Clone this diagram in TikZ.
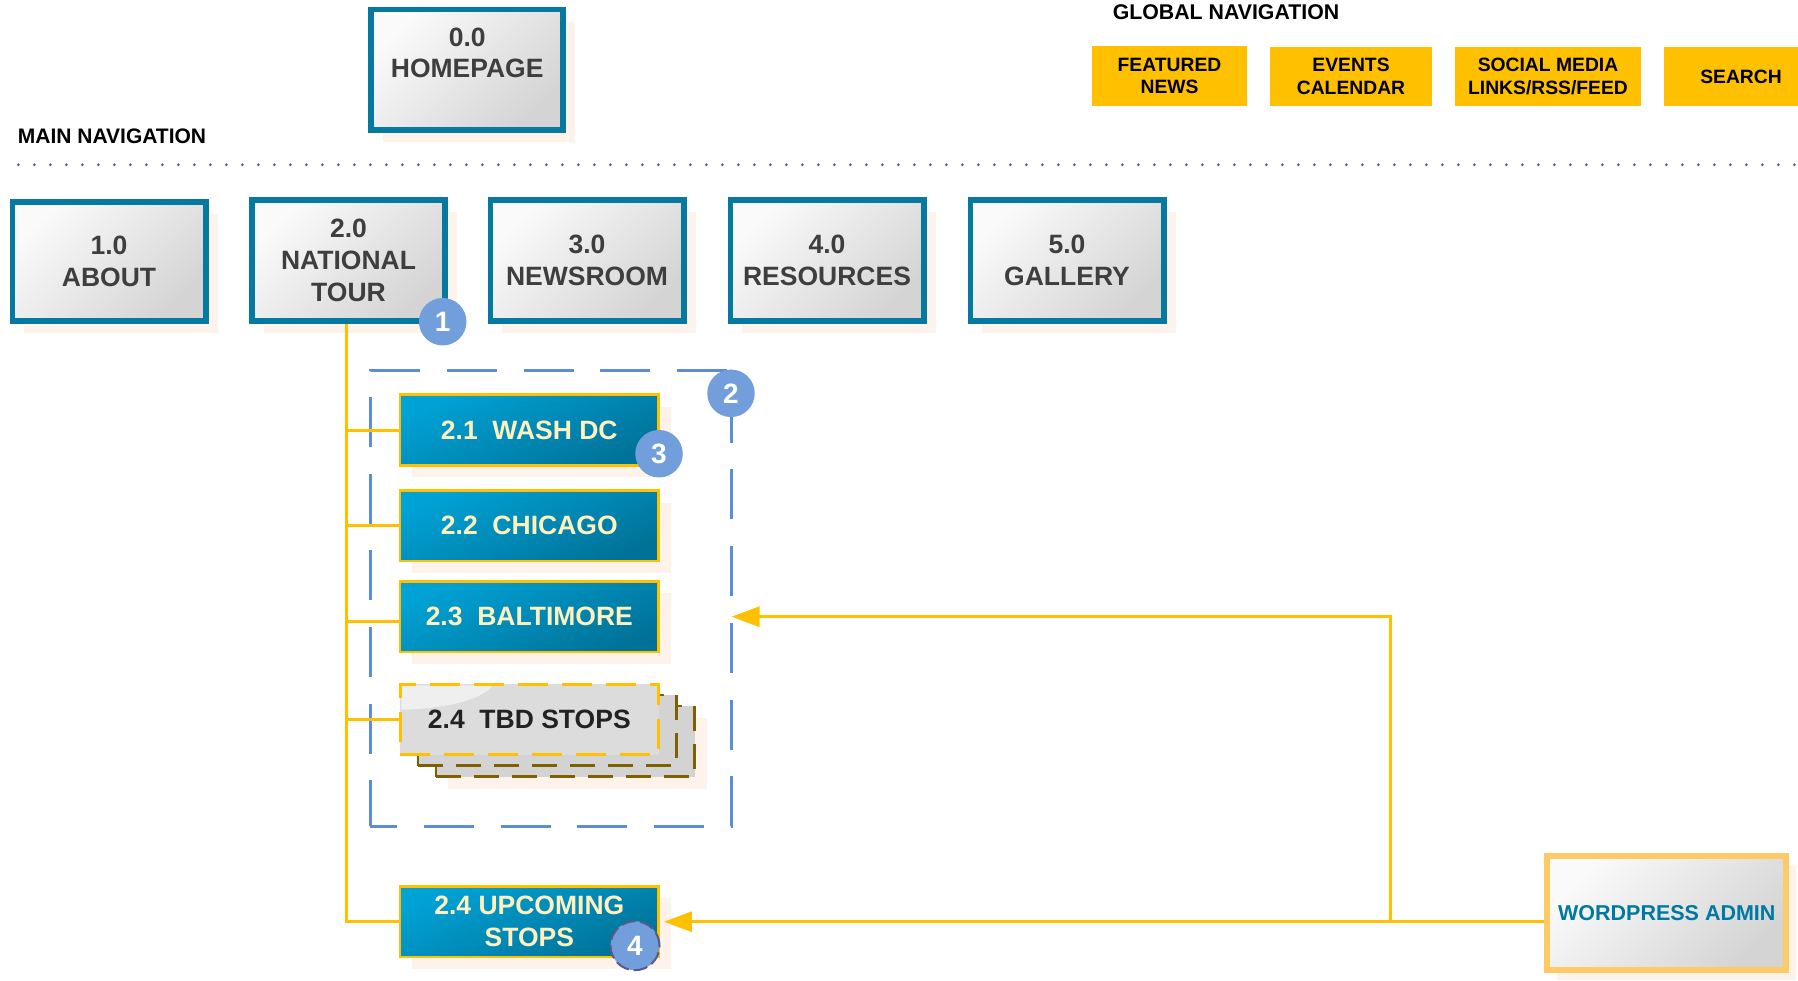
\documentclass[tikz,border=0pt]{standalone}
\usepackage{fontspec}
\setmainfont{Liberation Sans}
\usetikzlibrary{shadows,arrows.meta,calc}
\definecolor{gnav}{RGB}{255,192,0}
\definecolor{tealb}{RGB}{6,121,160}
\definecolor{gtext}{RGB}{62,62,62}
\definecolor{gtop}{RGB}{250,250,250}
\definecolor{gbot}{RGB}{212,212,212}
\definecolor{peach}{RGB}{254,243,234}
\definecolor{badgec}{RGB}{114,158,219}
\definecolor{bluedash}{RGB}{91,141,218}
\definecolor{subtop}{RGB}{0,162,213}
\definecolor{subbot}{RGB}{0,114,152}
\definecolor{cream}{RGB}{255,241,189}
\definecolor{tbdgray}{RGB}{220,220,220}
\definecolor{tbdtext}{RGB}{34,34,34}
\definecolor{golddk}{RGB}{127,96,0}
\definecolor{wpb}{RGB}{255,202,102}
\definecolor{wptext}{RGB}{0,121,160}
\definecolor{dotc}{RGB}{92,92,148}
\definecolor{slate}{RGB}{88,88,138}
\begin{document}
\begin{tikzpicture}[x=1pt,y=-1pt,
  peachshadow/.style={drop shadow={shadow xshift=12pt, shadow yshift=-12pt, fill=peach, opacity=1}},
  navbox/.style={draw=tealb, line width=5.7pt, top color=gtop, bottom color=gbot, shading angle=45,
    minimum width=193.3pt, minimum height=121.3pt, inner sep=0pt, align=center, text=gtext,
    font=\fontsize{26.5pt}{32pt}\selectfont\bfseries, peachshadow},
  gnavbox/.style={fill=gnav, text=black, inner sep=0pt, align=center, minimum height=59pt,
    font=\fontsize{19.3pt}{22.7pt}\selectfont\bfseries},
  heading/.style={text=black, inner sep=0pt, font=\fontsize{21pt}{24pt}\selectfont\bfseries},
  subbox/.style={draw=gnav, line width=2.7pt, top color=subtop, bottom color=subbot, shading angle=25,
    minimum width=258.6pt, minimum height=70.6pt, inner sep=0pt, align=center, text=cream,
    font=\fontsize{26.5pt}{31.7pt}\selectfont\bfseries, peachshadow},
  tbdback/.style={draw=golddk, line width=2.6pt, dash pattern=on 25pt off 13pt, fill=tbdgray!96!black,
    minimum width=258.6pt, minimum height=70.6pt, inner sep=0pt},
  badge/.style={circle, fill=badgec, text=white, minimum size=47.5pt, inner sep=0pt,
    font=\fontsize{28pt}{28pt}\selectfont\bfseries},
  conn/.style={draw=gnav, line width=3pt},
  arr/.style={conn, -{Triangle[length=28pt, width=20pt]}},
]
\useasboundingbox (0,0) rectangle (1798,980);
\clip (0,0) rectangle (1798,980);
\fill[white] (0,0) rectangle (1798,980);

% global navigation
\node[heading, font=\fontsize{21.3pt}{24pt}\selectfont\bfseries] (gtitle) at (1226,12.5) {GLOBAL NAVIGATION};
\node[gnavbox, minimum width=155pt, minimum height=60pt] (feat) at (1169.5,76) {FEATURED\\NEWS};
\node[gnavbox, minimum width=162pt] (events) at (1351,76.5) {EVENTS\\CALENDAR};
\node[gnavbox, minimum width=186pt] (social) at (1548,76.5) {SOCIAL MEDIA\\LINKS/RSS/FEED};
\node[gnavbox, minimum width=154pt] (search) at (1741,76.5) {SEARCH};

% main navigation
\node[heading] (mainnav) at (112,136.7) {MAIN NAVIGATION};
\draw[dotc, line width=3pt, line cap=round, dash pattern=on 0pt off 16pt] (18.3,164.7) -- (1798,164.7);

% homepage
\node[navbox, minimum width=192pt, minimum height=120.3pt,
  label={[name=hometext, yshift=16.6pt, align=center, text=gtext, inner sep=0pt,
          font=\fontsize{26.5pt}{31.2pt}\selectfont\bfseries]center:{0.0\\HOMEPAGE}}] (home) at (467.2,69.7) {};

% main boxes
\node[navbox, minimum height=119.3pt] (about) at (109,261.5) {1.0\\ABOUT};
\node[navbox] (natl) at (348.5,260.5) {2.0\\NATIONAL\\TOUR};
\node[navbox] (news) at (587,260.5) {3.0\\NEWSROOM};
\node[navbox] (res) at (827,260.5) {4.0\\RESOURCES};
\node[navbox] (gal) at (1067,260.5) {5.0\\GALLERY};

% group box
\node[draw=bluedash, line width=3pt, dash pattern=on 50pt off 26.7pt, dash phase=23pt,
  minimum width=360.7pt, minimum height=456pt, inner sep=0pt] (group) at (550.7,598) {};

% sub boxes
\node[subbox] (wash) at (529.3,430) {2.1~~WASH DC};
\node[subbox] (chi) at (529.3,525.8) {2.2~~CHICAGO};
\node[subbox] (bal) at (529.3,616.7) {2.3~~BALTIMORE};

\node[tbdback, peachshadow] (tbdb2) at (565.3,741.3) {};
\node[tbdback] (tbdb1) at (547.3,730.3) {};
\node[fill=tbdgray, minimum width=258.6pt, minimum height=70.6pt, inner sep=0pt] (tbdfill) at (529.3,719.3) {};
\fill[white, opacity=0.55] ([xshift=1.5pt,yshift=-1.5pt]tbdfill.north west)
  -- ([xshift=93pt,yshift=-1.5pt]tbdfill.north west)
  .. controls ([xshift=80pt,yshift=-18pt]tbdfill.north west) and ([xshift=40pt,yshift=-25pt]tbdfill.north west)
  .. ([xshift=1.5pt,yshift=-26pt]tbdfill.north west) -- cycle;
\node[draw=gnav, line width=3pt, dash pattern=on 30pt off 14pt, minimum width=258.6pt, minimum height=70.6pt,
  inner sep=0pt, text=tbdtext, font=\fontsize{26.5pt}{31.7pt}\selectfont\bfseries] (tbd) at (529.3,719.3) {2.4~~TBD STOPS};

\node[subbox] (upc) at (529.3,921.7) {2.4 UPCOMING\\STOPS};

% wordpress admin
\node[draw=wpb, line width=6pt, top color=gtop, bottom color=gbot, shading angle=45,
  minimum width=239pt, minimum height=113.4pt, inner sep=0pt, text=wptext,
  font=\fontsize{21.5pt}{26pt}\selectfont\bfseries,
  drop shadow={shadow xshift=10pt, shadow yshift=-10pt, fill=peach, opacity=1}] (wp) at (1666.8,913) {WORDPRESS ADMIN};

% connectors
\coordinate (trunk) at ([xshift=-2pt]natl.south);
\coordinate (balin) at ([yshift=-5pt]bal.west);
\draw[conn] (trunk) |- (upc.west);
\draw[conn] (trunk |- wash.west) -- (wash.west);
\draw[conn] (trunk |- chi.west) -- (chi.west);
\draw[conn] (trunk |- balin) -- (balin);
\draw[conn] (trunk |- tbd.west) -- (tbd.west);

\coordinate (jn) at (1390.7,921.7);
\draw[arr, shorten >=4pt] (wp.west |- upc.east) -- (upc.east);
\draw[arr, shorten >=-1pt] (jn) |- (group.east |- bal.east);

% badges
\node[badge] (b1) at (442.7,321.7) {1};
\node[badge] (b2) at (731,393.3) {2};
\node[badge] (b3) at (659,453.7) {3};
\node[badge, minimum size=49pt, draw=slate, line width=2pt, dash pattern=on 14pt off 5pt] (b4) at (635,945.7) {4};
\end{tikzpicture}
\end{document}
